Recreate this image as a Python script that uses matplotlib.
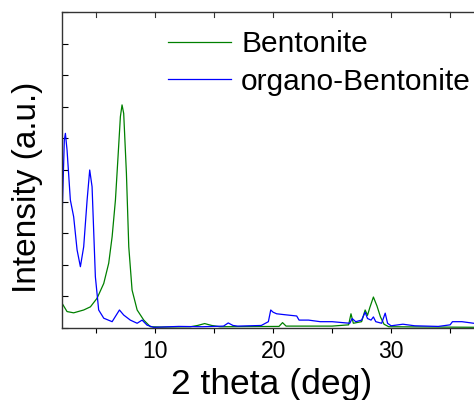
import matplotlib
matplotlib.use('Agg')
import matplotlib.pyplot as plt

plt.rcParams['font.family'] = ['Liberation Sans', 'DejaVu Sans']

# XRD patterns (2 theta in deg, intensity in arbitrary units)
bent_x = [2.12, 2.54, 3.1, 3.95, 4.52, 5.08, 5.65, 6.07, 6.36, 6.64, 6.86, 7.06,
          7.2, 7.34, 7.57, 7.77, 8.05, 8.48, 9.04, 9.6, 10.5, 13.0, 13.6, 14.2,
          14.8, 15.5, 20.5, 20.8, 21.1, 25.0, 26.4, 26.6, 26.8, 27.5, 27.8, 28.0,
          28.2, 28.5, 28.8, 29.1, 29.4, 29.8, 38.3]
bent_y = [0.78, 0.52, 0.48, 0.57, 0.67, 0.94, 1.41, 2.05, 2.89, 4.05, 5.42, 6.69,
          7.06, 6.79, 4.9, 2.57, 1.2, 0.57, 0.25, 0.04, 0.03, 0.04, 0.08, 0.14,
          0.08, 0.04, 0.05, 0.17, 0.06, 0.06, 0.1, 0.45, 0.15, 0.2, 0.57, 0.4,
          0.65, 0.98, 0.7, 0.35, 0.12, 0.04, 0.02]

org_x = [2.12, 2.31, 2.4, 2.54, 2.82, 3.1, 3.39, 3.67, 3.95, 4.24, 4.46, 4.66,
         4.94, 5.22, 5.65, 6.36, 6.98, 7.34, 7.9, 8.48, 8.9, 9.32, 9.88, 12.0,
         14.0, 15.8, 16.2, 16.6, 17.0, 19.0, 19.6, 19.8, 20.0, 20.3, 21.0, 21.5,
         22.0, 22.2, 23.0, 24.0, 25.0, 26.5, 26.7, 27.0, 27.5, 27.8, 28.0, 28.3,
         28.5, 28.7, 29.2, 29.5, 29.7, 30.0, 31.0, 32.0, 34.0, 35.0, 35.2, 36.0,
         37.0, 38.3]
org_y = [3.52, 5.95, 6.16, 5.63, 4.05, 3.52, 2.47, 1.94, 2.57, 4.05, 5.0, 4.47,
         1.62, 0.57, 0.31, 0.2, 0.57, 0.41, 0.25, 0.15, 0.25, 0.09, 0.02, 0.05,
         0.04, 0.06, 0.16, 0.08, 0.06, 0.08, 0.2, 0.57, 0.5, 0.45, 0.42, 0.4,
         0.38, 0.25, 0.25, 0.2, 0.2, 0.15, 0.3, 0.2, 0.25, 0.5, 0.3, 0.25,
         0.35, 0.2, 0.15, 0.47, 0.15, 0.07, 0.12, 0.07, 0.05, 0.1, 0.2, 0.2,
         0.15, 0.12]

fig = plt.figure(figsize=(4.74, 4.0), dpi=100)
ax = fig.add_axes([0.131, 0.18, 0.90, 0.79])

ax.plot(bent_x, bent_y, color='#008000', lw=0.9, label='Bentonite')
ax.plot(org_x, org_y, color='#0000ff', lw=0.9, label='organo-Bentonite')

ax.set_xlim(2.12, 38.27)
ax.set_ylim(0, 10)

ax.set_xticks([10, 20, 30])
ax.set_xticks([5, 15, 25, 35], minor=True)
ax.set_yticks(range(11))
ax.set_yticklabels([])
ax.tick_params(axis='x', which='both', direction='out', length=3.6, width=0.8,
               labelsize=16.5, pad=5, top=False)
ax.tick_params(axis='y', direction='in', length=4, width=0.8, left=True)

# inward ticks along the top spine every 5 deg
for xt in [5, 10, 15, 20, 25, 30, 35]:
    ax.plot([xt, xt], [10, 9.85], color='#333333', lw=0.8, clip_on=False)

for s in ax.spines.values():
    s.set_color('#333333')
    s.set_linewidth(1.0)

ax.set_xlabel('2 theta (deg)', fontsize=25.5, va='baseline')
ax.xaxis.set_label_coords(0.49, -0.21)
ax.set_ylabel('Intensity (a.u.)', fontsize=24, va='center')
ax.yaxis.set_label_coords(-0.08, 0.445)

ax.legend(loc='upper left', bbox_to_anchor=(168 / 474, 1 - 30 / 400),
          bbox_transform=fig.transFigure, frameon=False, fontsize=21.5,
          handlelength=2.1, handletextpad=0.35, labelspacing=0.33, borderpad=0,
          borderaxespad=0)

fig.savefig('out.png', dpi=100)
